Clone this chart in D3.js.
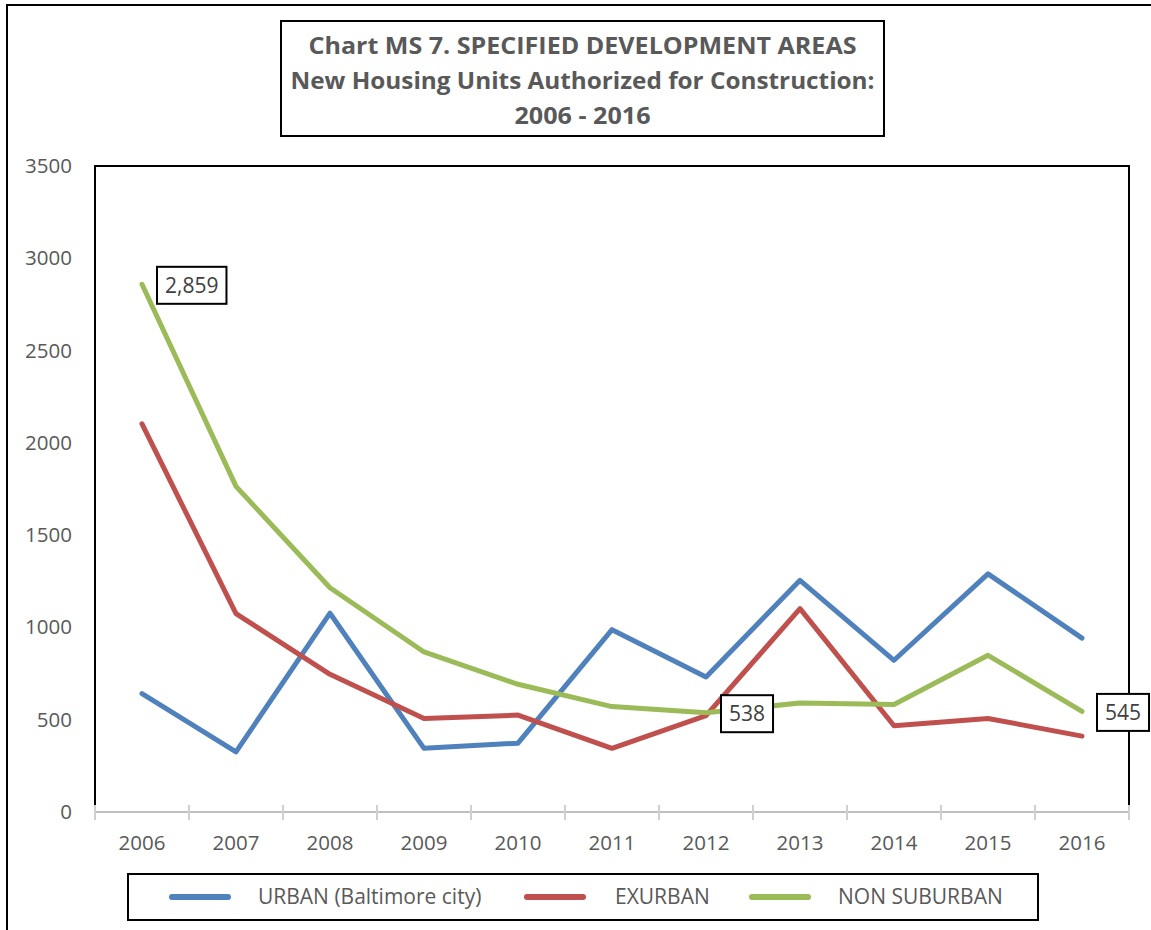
<!DOCTYPE html>
<html>
<head>
<meta charset="utf-8">
<script src="https://cdn.jsdelivr.net/npm/d3@7"></script>
<style>
  body { margin: 0; background: #fff; }
  svg { display: block; font-family: "Open Sans", sans-serif; }
</style>
</head>
<body>
<div id="chart"></div>
<script>
const years = ["2006", "2007", "2008", "2009", "2010", "2011", "2012", "2013", "2014", "2015", "2016"];
const urban = [642, 326, 1077, 345, 373, 988, 732, 1255, 822, 1290, 942];
const exurban = [2103, 1075, 746, 507, 525, 345, 522, 1102, 467, 507, 411];
const nonSuburban = [2859, 1764, 1215, 867, 692, 571, 538, 591, 582, 849, 545];
const seriesNames = ["URBAN (Baltimore city)", "EXURBAN", "NON SUBURBAN"];
const yTicks = [0, 500, 1000, 1500, 2000, 2500, 3000, 3500];
const titleLines = ["Chart MS 7. SPECIFIED DEVELOPMENT AREAS", "New Housing Units Authorized for Construction:", "2006 - 2016"];
// points of NON SUBURBAN that carry a value label
const labelled = [0, 6, 10];

const W = 1151, H = 930;
const colors = ["#4F81BD", "#C0504D", "#9BBB59"];
const series = [urban, exurban, nonSuburban];

const svg = d3.select("#chart").append("svg")
  .attr("width", W).attr("height", H);

// outer chart border
svg.append("rect")
  .attr("x", 7).attr("y", 5).attr("width", 1170).attr("height", 960)
  .attr("fill", "none").attr("stroke", "#000").attr("stroke-width", 2);

// title box
svg.append("rect")
  .attr("x", 281).attr("y", 21).attr("width", 603).attr("height", 115)
  .attr("fill", "#fff").attr("stroke", "#000").attr("stroke-width", 2);
const titleWidths = [548, 584, 136];
titleLines.forEach((t, i) => {
  svg.append("text")
    .attr("x", 582.5).attr("y", 46 + i * 35)
    .attr("dy", "0.35em")
    .attr("text-anchor", "middle")
    .attr("font-size", 24).attr("font-weight", "bold")
    .attr("fill", "#595959")
    .attr("textLength", titleWidths[i])
    .attr("lengthAdjust", "spacingAndGlyphs")
    .text(t);
});

const margin = { left: 95, right: 1129, top: 166, bottom: 812 };

const x = d3.scaleBand()
  .domain(years)
  .range([margin.left, margin.right])
  .padding(0);

const y = d3.scaleLinear()
  .domain([0, 3500])
  .range([margin.bottom, margin.top]);

// plot frame
svg.append("rect")
  .attr("x", margin.left).attr("y", margin.top)
  .attr("width", margin.right - margin.left)
  .attr("height", margin.bottom - margin.top)
  .attr("fill", "none").attr("stroke", "#000").attr("stroke-width", 2);

// y axis labels
svg.append("g")
  .attr("transform", `translate(${margin.left},0)`)
  .call(d3.axisLeft(y).tickValues(yTicks).tickSize(0).tickPadding(23).tickFormat(d3.format("d")))
  .call(g => g.select(".domain").remove())
  .selectAll("text")
  .attr("font-family", "Open Sans")
  .attr("font-size", 20.5)
  .attr("fill", "#595959");

// x axis line with ticks on band edges
const xAxis = svg.append("g").attr("class", "xAxis");
xAxis.append("line")
  .attr("x1", margin.left).attr("x2", margin.right)
  .attr("y1", margin.bottom).attr("y2", margin.bottom)
  .attr("stroke", "#BFBFBF").attr("stroke-width", 2);
const edges = years.map(d => x(d)).concat([x(years[years.length - 1]) + x.bandwidth()]);
xAxis.selectAll("line.tick")
  .data(edges)
  .join("line")
  .attr("class", "tick")
  .attr("x1", d => d).attr("x2", d => d)
  .attr("y1", margin.bottom - 7).attr("y2", margin.bottom + 8)
  .attr("stroke", "#D0D0D0").attr("stroke-width", 2);
xAxis.selectAll("text")
  .data(years)
  .join("text")
  .attr("x", d => x(d) + x.bandwidth() / 2)
  .attr("y", 843)
  .attr("dy", "0.35em")
  .attr("text-anchor", "middle")
  .attr("font-size", 20.5)
  .attr("fill", "#595959")
  .text(d => d);

// lines
const line = d3.line()
  .x((d, i) => x(years[i]) + x.bandwidth() / 2)
  .y(d => y(d));

svg.selectAll("path.series")
  .data(series)
  .join("path")
  .attr("class", "series")
  .attr("fill", "none")
  .attr("stroke", (d, i) => colors[i])
  .attr("stroke-width", 5)
  .attr("stroke-linejoin", "round")
  .attr("stroke-linecap", "round")
  .attr("d", line);

// data labels for NON SUBURBAN
const fmt = d3.format(",");
labelled.forEach(i => {
  const cx = x(years[i]) + x.bandwidth() / 2;
  const cy = y(nonSuburban[i]);
  const g = svg.append("g");
  const txt = g.append("text")
    .attr("font-size", 21)
    .attr("fill", "#404040")
    .attr("text-anchor", "middle")
    .attr("dy", "0.35em")
    .text(fmt(nonSuburban[i]));
  const tw = txt.node().getComputedTextLength();
  const bw = tw + 16, bh = 37;
  const bx = cx + 15 + bw / 2;
  txt.attr("x", bx).attr("y", cy + 1);
  g.insert("rect", "text")
    .attr("x", bx - bw / 2).attr("y", cy + 1 - bh / 2)
    .attr("width", bw).attr("height", bh)
    .attr("fill", "#fff").attr("stroke", "#000").attr("stroke-width", 2);
});

// legend
svg.append("rect")
  .attr("x", 128).attr("y", 874).attr("width", 910).attr("height", 46)
  .attr("fill", "#fff").attr("stroke", "#000").attr("stroke-width", 2);
const legendX = [172, 527, 752];
const legend = svg.selectAll("g.legend")
  .data(seriesNames)
  .join("g")
  .attr("class", "legend")
  .attr("transform", (d, i) => `translate(${legendX[i]},897)`);
legend.append("line")
  .attr("x1", 0).attr("x2", 56)
  .attr("stroke", (d, i) => colors[i])
  .attr("stroke-width", 6)
  .attr("stroke-linecap", "round");
legend.append("text")
  .attr("x", (d, i) => i === 1 ? 88 : 86)
  .attr("dy", "0.35em")
  .attr("font-size", 21)
  .attr("fill", "#595959")
  .text(d => d);
</script>
</body>
</html>
